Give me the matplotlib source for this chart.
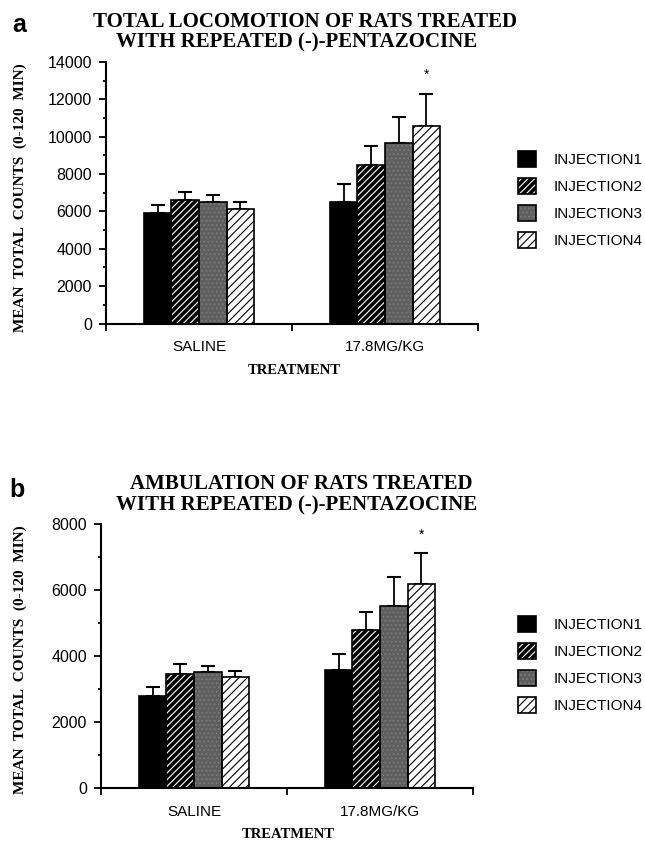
import numpy as np
import matplotlib
matplotlib.use("Agg")
import matplotlib.pyplot as plt
from matplotlib.patches import Patch
from matplotlib.legend_handler import HandlerTuple

# ---- data ----
categories = ["SALINE", "17.8MG/KG"]
injections = ["INJECTION1", "INJECTION2", "INJECTION3", "INJECTION4"]

# panel a: total locomotion, rows = categories, cols = injections
loco_mean = [[5900, 6600, 6500, 6150],
             [6500, 8500, 9650, 10600]]
loco_err = [[430, 450, 360, 350],
            [950, 980, 1420, 1680]]

# panel b: ambulation
amb_mean = [[2800, 3460, 3510, 3370],
            [3580, 4800, 5510, 6170]]
amb_err = [[250, 290, 200, 190],
           [470, 530, 870, 950]]

SERIF = "Liberation Serif"
SANS = "Liberation Sans"

plt.rcParams["font.family"] = SANS
plt.rcParams["hatch.linewidth"] = 0.8

W = 0.148  # bar width in category units

# style per injection: facecolor, hatch colour, hatch
STYLES = [
    ("black", "black", None),
    ("black", "white", "/////"),
    ("#5e5e5e", "#7c7c7c", "...."),
    ("white", "black", "////"),
]


def draw_panel(ax, means, errs, ymax, star_y):
    x = np.arange(len(categories))
    for j in range(len(injections)):
        fc, hc, hatch = STYLES[j]
        pos = x + (j - 1.5) * W
        vals = [means[i][j] for i in range(len(categories))]
        e = [errs[i][j] for i in range(len(categories))]
        ax.errorbar(pos, vals, yerr=[np.zeros(len(e)), e], fmt="none",
                    ecolor="black", elinewidth=1.3, capsize=5, capthick=1.5, zorder=1)
        ax.bar(pos, vals, W, facecolor=fc, edgecolor=hc, hatch=hatch, lw=0, zorder=2)
        ax.bar(pos, vals, W, facecolor="none", edgecolor="black", lw=1.2, zorder=3)

    # asterisk over last bar
    ax.text(1 + 1.5 * W, star_y, "*", ha="center", va="bottom", fontsize=10, fontfamily=SANS)

    ax.set_xlim(-0.5, 1.5)
    ax.set_ylim(0, ymax)
    for s in ["top", "right"]:
        ax.spines[s].set_visible(False)
    ax.spines["left"].set_linewidth(1.5)
    ax.spines["bottom"].set_linewidth(1.5)

    ax.set_yticks(np.arange(0, ymax + 1, 2000))
    ax.set_yticks(np.arange(1000, ymax, 2000), minor=True)
    ax.tick_params(axis="y", which="major", length=5, width=1.3, labelsize=11.5, pad=5)
    ax.tick_params(axis="y", which="minor", length=2.5, width=1.3)

    ax.set_xticks([-0.5, 0.5, 1.5])
    ax.set_xticklabels([])
    ax.set_xticks([0, 1], minor=True)
    ax.set_xticklabels(categories, minor=True)
    ax.tick_params(axis="x", which="major", length=5, width=1.3)
    ax.tick_params(axis="x", which="minor", length=0, labelsize=11, pad=12)

    handles = []
    for fc, hc, hatch in STYLES:
        fill = Patch(facecolor=fc, edgecolor=hc, hatch=hatch, lw=0)
        edge = Patch(facecolor="none", edgecolor="black", lw=1.2)
        handles.append((fill, edge))
    return handles


fig = plt.figure(figsize=(6.45, 8.42), dpi=100)
H = 842.0
Wd = 645.0

ax_a = fig.add_axes([106 / Wd, 1 - 323.5 / H, 372 / Wd, 261.5 / H])
ax_b = fig.add_axes([101 / Wd, 1 - 788 / H, 372 / Wd, 264 / H])

h_a = draw_panel(ax_a, loco_mean, loco_err, 14000, 12950)
h_b = draw_panel(ax_b, amb_mean, amb_err, 8000, 7450)

for handles, ytop in [(h_a, 151), (h_b, 616)]:
    fig.legend(handles, injections, loc="upper left",
               bbox_to_anchor=(518 / Wd, 1 - ytop / H), frameon=False,
               fontsize=11, handlelength=1.2, handleheight=1.2,
               handletextpad=1.1, labelspacing=0.72, borderpad=0, borderaxespad=0,
               handler_map={tuple: HandlerTuple(ndivide=1, pad=0)})

# titles
title_kw = dict(ha="center", va="center", fontfamily=SERIF, fontweight="bold", fontsize=15)
fig.text(305 / Wd, 1 - 22 / H, "TOTAL LOCOMOTION OF RATS TREATED", **title_kw)
fig.text(297 / Wd, 1 - 42 / H, "WITH REPEATED (-)-PENTAZOCINE", **title_kw)
fig.text(301 / Wd, 1 - 484 / H, "AMBULATION OF RATS TREATED", **title_kw)
fig.text(297 / Wd, 1 - 505 / H, "WITH REPEATED (-)-PENTAZOCINE", **title_kw)

# panel letters
fig.text(19 / Wd, 1 - 25 / H, "a", ha="center", va="center", fontsize=18, fontweight="bold")
fig.text(17 / Wd, 1 - 490 / H, "b", ha="center", va="center", fontsize=18, fontweight="bold")

# axis labels
ylab_kw = dict(ha="center", va="center", rotation=90, fontfamily=SERIF,
               fontweight="bold", fontsize=11)
fig.text(20 / Wd, 1 - 198 / H, "MEAN  TOTAL  COUNTS  (0-120  MIN)", **ylab_kw)
fig.text(20 / Wd, 1 - 660 / H, "MEAN  TOTAL  COUNTS  (0-120  MIN)", **ylab_kw)

xlab_kw = dict(ha="center", va="center", fontfamily=SERIF, fontweight="bold", fontsize=10.5)
fig.text(294 / Wd, 1 - 371 / H, "TREATMENT", **xlab_kw)
fig.text(288 / Wd, 1 - 834 / H, "TREATMENT", **xlab_kw)

fig.savefig("out.png", dpi=100)
